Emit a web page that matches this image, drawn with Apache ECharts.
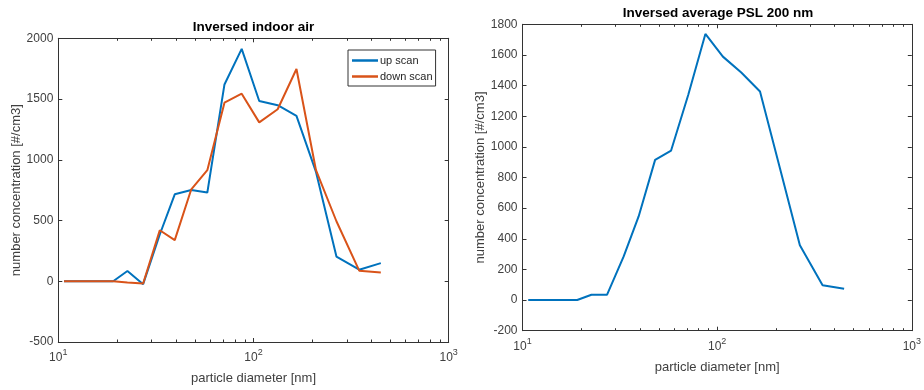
<!DOCTYPE html>
<html>
<head>
<meta charset="utf-8">
<script src="https://cdn.jsdelivr.net/npm/echarts@6/dist/echarts.min.js"></script>
<style>
  html, body { margin: 0; padding: 0; background: #fff; }
  #chart { width: 924px; height: 390px; }
</style>
</head>
<body>
<div id="chart"></div>
<script>
// particle diameters [nm] (same bins for both scans)
var diameter = [10.7, 13.0, 15.7, 19.1, 22.6, 27.2, 33.1, 39.5, 48, 58, 71, 87, 107, 133, 166, 209, 266, 348, 449];
var upScan   = [0, 0, 0, 0, 84, -24, 385, 716, 751, 730, 1620, 1913, 1484, 1449, 1362, 900, 203, 95, 149];
var downScan = [0, 0, 0, 0, -10, -19, 420, 339, 757, 914, 1470, 1544, 1308, 1416, 1747, 914, 494, 87, 73];
var pslAvg   = [0, 0, 0, 0, 35, 35, 285, 546, 915, 976, 1339, 1737, 1589, 1485, 1361, 872, 357, 96, 74];
var minorTicks = [20, 30, 40, 50, 60, 70, 80, 90, 200, 300, 400, 500, 600, 700, 800, 900];

var axisColor = "#333333";
var textColor = "#404040";
var font = "Liberation Sans, Arial, sans-serif";

function pairs(xs, ys) {
  return xs.map(function (x, i) { return [x, ys[i]]; });
}

function logLabel(v) {
  return "{b|10}{s|" + Math.round(Math.log10(v)) + "}";
}

function xAxisCfg(gridIndex, pos) {
  var bottom = pos === "bottom";
  return {
    type: "log",
    logBase: 10,
    gridIndex: gridIndex,
    position: pos,
    min: 10,
    max: 1000,
    name: bottom ? "particle diameter [nm]" : "",
    nameLocation: "middle",
    nameGap: 30,
    nameTextStyle: { color: textColor, fontSize: 13, fontFamily: font },
    axisLine: { show: true, onZero: false, lineStyle: { color: axisColor, width: 1 } },
    axisTick: { show: true, inside: true, length: 4, lineStyle: { color: axisColor } },
    splitLine: { show: false },
    axisLabel: {
      show: bottom,
      margin: 6,
      formatter: logLabel,
      rich: {
        b: { fontSize: 12, color: textColor, fontFamily: font, verticalAlign: "bottom" },
        s: { fontSize: 9, color: textColor, fontFamily: font, verticalAlign: "bottom", padding: [0, 0, 7, 0] }
      }
    }
  };
}

function yAxisCfg(gridIndex, pos, min, max, step, gap) {
  var left = pos === "left";
  return {
    type: "value",
    gridIndex: gridIndex,
    position: pos,
    min: min,
    max: max,
    interval: step,
    name: left ? "number concentration [#/cm3]" : "",
    nameLocation: "middle",
    nameGap: gap,
    nameTextStyle: { color: textColor, fontSize: 13, fontFamily: font },
    axisLine: { show: true, onZero: false, lineStyle: { color: axisColor, width: 1 } },
    axisTick: { show: true, inside: true, length: 4, lineStyle: { color: axisColor } },
    splitLine: { show: false },
    axisLabel: {
      show: left, margin: 5, color: textColor, fontSize: 12, fontFamily: font,
      formatter: function (v) { return String(v); }
    }
  };
}

// small log minor ticks on the bottom and top edge, placed through the x scale
function minorTickSeries(xi, yi) {
  return {
    type: "custom",
    xAxisIndex: xi,
    yAxisIndex: yi,
    silent: true,
    z: 5,
    data: minorTicks.map(function (v) { return [v, 0]; }),
    renderItem: function (params, api) {
      var cs = params.coordSys;
      var x = Math.round(api.coord([api.value(0), 0])[0]) + 0.5;
      var st = { stroke: axisColor, lineWidth: 1 };
      return {
        type: "group",
        children: [
          { type: "line", shape: { x1: x, y1: cs.y + cs.height, x2: x, y2: cs.y + cs.height - 2.5 }, style: st },
          { type: "line", shape: { x1: x, y1: cs.y, x2: x, y2: cs.y + 2.5 }, style: st }
        ]
      };
    }
  };
}

var chart = echarts.init(document.getElementById("chart"));
chart.setOption({
  animation: false,
  backgroundColor: "#fff",
  title: [
    {
      text: "Inversed indoor air",
      left: 253.5, top: 20, textAlign: "center", padding: 0,
      textStyle: { fontSize: 13.5, fontWeight: "bold", color: "#000", fontFamily: font }
    },
    {
      text: "Inversed average PSL 200 nm",
      left: 718, top: 6, textAlign: "center", padding: 0,
      textStyle: { fontSize: 13.5, fontWeight: "bold", color: "#000", fontFamily: font }
    }
  ],
  legend: {
    data: ["up scan", "down scan"],
    orient: "vertical",
    left: 348, top: 50,
    padding: [5, 3, 4, 4],
    itemGap: 5,
    icon: "rect",
    itemWidth: 26,
    itemHeight: 2.5,
    borderColor: "#333",
    borderWidth: 1,
    backgroundColor: "#fff",
    textStyle: { fontSize: 11, color: "#262626", fontFamily: font, padding: [0, 0, 0, -3] }
  },
  grid: [
    { left: 58.3, top: 38.3, width: 390.4, height: 306.4 },
    { left: 522.5, top: 24.3, width: 390.8, height: 306.4 }
  ],
  xAxis: [
    xAxisCfg(0, "bottom"),
    xAxisCfg(0, "top"),
    xAxisCfg(1, "bottom"),
    xAxisCfg(1, "top")
  ],
  yAxis: [
    yAxisCfg(0, "left", -500, 2000, 500, 33),
    yAxisCfg(0, "right", -500, 2000, 500, 33),
    yAxisCfg(1, "left", -200, 1800, 200, 34),
    yAxisCfg(1, "right", -200, 1800, 200, 34)
  ],
  series: [
    {
      name: "up scan", type: "line", xAxisIndex: 0, yAxisIndex: 0,
      data: pairs(diameter, upScan), showSymbol: false, symbol: "none",
      lineStyle: { color: "#0072BD", width: 2 }, itemStyle: { color: "#0072BD" }, z: 3
    },
    {
      name: "down scan", type: "line", xAxisIndex: 0, yAxisIndex: 0,
      data: pairs(diameter, downScan), showSymbol: false, symbol: "none",
      lineStyle: { color: "#D95319", width: 2 }, itemStyle: { color: "#D95319" }, z: 4
    },
    {
      name: "PSL 200 nm", type: "line", xAxisIndex: 2, yAxisIndex: 2,
      data: pairs(diameter, pslAvg), showSymbol: false, symbol: "none",
      lineStyle: { color: "#0072BD", width: 2 }, itemStyle: { color: "#0072BD" }
    },
    minorTickSeries(0, 0),
    minorTickSeries(2, 2)
  ]
});
</script>
</body>
</html>
